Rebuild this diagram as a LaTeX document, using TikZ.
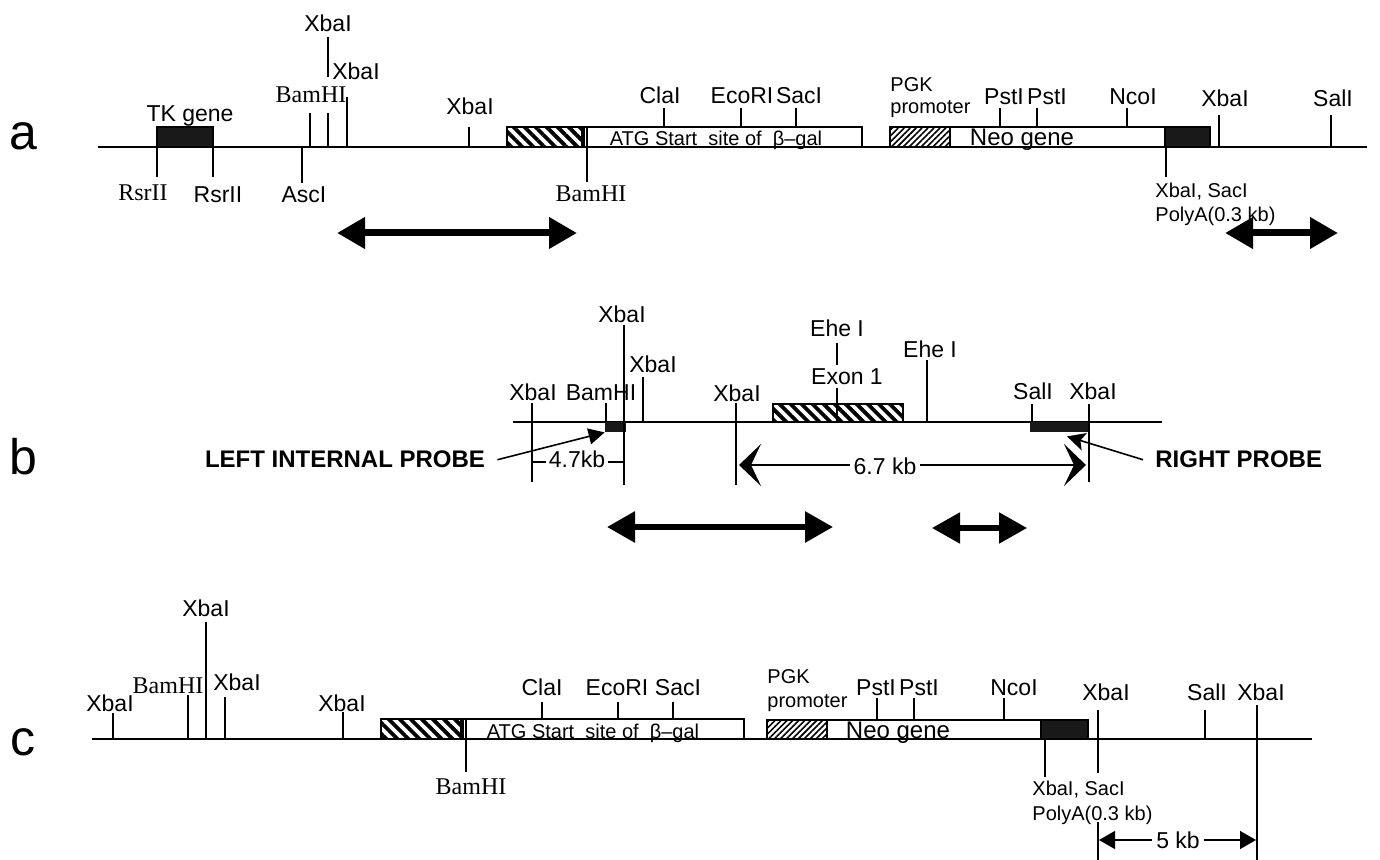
\documentclass[tikz,border=0pt]{standalone}
\usepackage{fontspec}
\setmainfont{Liberation Sans}
\newfontfamily\timesfont{Liberation Serif}
\usetikzlibrary{arrows.meta, fit, patterns.meta}

\tikzset{
  dna/.style={line width=0.8pt},
  cut/.style={line width=0.8pt},
  site/.style={font=\fontsize{11.5}{13.8}\selectfont, inner sep=0pt, anchor=base},
  tsite/.style={site, font=\timesfont\fontsize{12}{14}\selectfont},
  small/.style={site, font=\fontsize{10}{12}\selectfont},
  big/.style={site, font=\fontsize{12}{14}\selectfont},
  probe/.style={site, font=\bfseries\fontsize{12}{14}\selectfont},
  panel/.style={site, font=\fontsize{25}{30}\selectfont},
  region/.style={draw, line width=0.8pt, fill=white, inner sep=0pt},
  solid/.style={region, fill=black!90},
  hatch/.style={draw, line width=0.8pt, inner sep=0pt, preaction={fill=white},
                pattern={Lines[angle=-45, distance=3.9pt, line width=1.9pt]}},
  pgk/.style={draw, line width=0.8pt, inner sep=0pt, preaction={fill=white},
              pattern={Lines[angle=45, distance=2.1pt, line width=0.8pt]}},
  band/.style={inner sep=0pt, fill=black!90},
  span/.style={line width=3.5pt, {Triangle[length=14pt,width=15pt]}-{Triangle[length=14pt,width=15pt]}},
  kb/.style={line width=0.7pt, {Stealth[length=11pt,width=21pt,inset=5pt]}-{Stealth[length=11pt,width=21pt,inset=5pt]}},
  kbsmall/.style={line width=0.7pt, {Triangle[length=8pt,width=9pt]}-{Triangle[length=8pt,width=9pt]}},
  pointer/.style={line width=0.8pt, -{Triangle[length=8pt,width=8pt]}}
}

\begin{document}
\begin{tikzpicture}[x=0.5pt, y=-0.5pt]
\useasboundingbox (0,0) rectangle (1380,860);
\fill[white] (0,0) rectangle (1380,860);

% ---------- a
\node[panel] (a) at (23,150) {a};
\draw[dna] (98,147) -- (1367,147);
\node[solid, fit={(157,127) (213,147)}] (a-tk) {};
\node[hatch, fit={(507,127) (582,147)}] (a-lac) {};
\node[region, fit={(584,127) (862,147)}] (a-gal) {};
\node[pgk, fit={(890,127) (950,147)}] (a-pgk) {};
\node[region, fit={(950,127) (1165,147)}] (a-neo) {};
\node[solid, fit={(1165,127) (1210,147)}] (a-pA) {};

\foreach \x/\t/\b in {310/113/147, 328/113/147, 328/37/77, 347/97/147, 469/127/147,
    664/108/127, 741/108/127, 796/108/127, 1000/108/127, 1037/108/127, 1127/108/127,
    1219/115/147, 1331/115/147, 157/147/177, 213/147/177, 302/147/183, 587/127/182,
    1166/147/177}
  \draw[cut] (\x,\t) -- (\x,\b);

\node[site] (a-tkl) at (190,122) {TK gene};
\node[site] (a-x1) at (328,32) {XbaI};
\node[site] (a-x2) at (356,80) {XbaI};
\node[tsite] (a-bam1) at (311,103) {BamHI};
\node[site] (a-x3) at (470,115) {XbaI};
\node[site] (a-cla) at (660,104) {ClaI};
\node[site] (a-eco) at (742,104) {EcoRI};
\node[site] (a-sac) at (799,104) {SacI};
\node[small, anchor=base west] (a-pgk1) at (890,92) {PGK};
\node[small, anchor=base west] (a-pgk2) at (890,114) {promoter};
\node[site] (a-pst1) at (1004,105) {PstI};
\node[site] (a-pst2) at (1047,105) {PstI};
\node[site] (a-nco) at (1133,105) {NcoI};
\node[site] (a-x4) at (1225,107) {XbaI};
\node[site] (a-sal) at (1333,107) {SalI};
\node[small] (a-atg) at (716,146) {ATG Start\ \ site of\ \ β–gal};
\node[big] (a-neol) at (1022,146) {Neo gene};
\node[tsite] (a-rsr1) at (143,201) {RsrII};
\node[site] (a-rsr2) at (218,203) {RsrII};
\node[site] (a-asc) at (304,203) {AscI};
\node[tsite] (a-bam2) at (591,202) {BamHI};
\node[small, anchor=base west] (a-xs) at (1155,198) {XbaI, SacI};
\node[small, anchor=base west] (a-polyA) at (1155,222) {PolyA(0.3 kb)};

\coordinate (a-s1) at (337,233);
\coordinate (a-e1) at (577,233);
\coordinate (a-s2) at (1225,233);
\coordinate (a-e2) at (1338,233);
\draw[span] (a-s1) -- (a-e1);
\draw[span] (a-s2) -- (a-e2);

% ---------- b
\node[panel] (b) at (23,474) {b};
\draw[dna] (513,422) -- (1162,422);
\node[band, fit={(605,422) (626,432)}] (b-lp) {};
\node[hatch, fit={(773,404) (903,422)}] (b-exon) {};
\node[band, fit={(1030,422) (1088,432)}] (b-rp) {};

\foreach \x/\t/\b in {532/403/482, 606/403/422, 624/325/485, 643/377/422, 736/403/485,
    837/343/365, 837/388/422, 927/360/422, 1032/404/422, 1089/404/482}
  \draw[cut] (\x,\t) -- (\x,\b);

\node[site] (b-x1) at (533,401) {XbaI};
\node[site] (b-bam) at (601,401) {BamHI};
\node[site] (b-x2) at (622,323) {XbaI};
\node[site] (b-x3) at (653,373) {XbaI};
\node[site] (b-x4) at (737,402) {XbaI};
\node[site] (b-ehe1) at (837,337) {Ehe I};
\node[site] (b-exl) at (847,385) {Exon 1};
\node[site] (b-ehe2) at (930,358) {Ehe I};
\node[site] (b-sal) at (1033,400) {SalI};
\node[site] (b-x5) at (1093,400) {XbaI};

\node[probe] (b-left) at (345,468) {LEFT INTERNAL PROBE};
\node[probe, anchor=base west] (b-right) at (1155,468) {RIGHT PROBE};
\draw[pointer] (b-left.east) ++(6pt,0) -- (b-lp.south west);
\draw[line width=0.8pt, -{Stealth[length=9pt,width=9pt,inset=2pt]}]
  ([xshift=-6pt]b-right.west) -- ([xshift=4pt,yshift=-2pt]b-rp.south);

\draw[cut] (532,462) -- (624,462);
\node[site, fill=white, inner sep=1.5pt] (b-47) at (577,468) {4.7kb};

\coordinate (b-d1) at (739,465);
\coordinate (b-d2) at (1086,465);
\draw[kb] (b-d1) -- (b-d2);
\node[site, fill=white, inner sep=2pt] (b-67) at (885,474) {6.7 kb};

\coordinate (b-s1) at (607,527);
\coordinate (b-e1) at (833,527);
\coordinate (b-s2) at (932,528);
\coordinate (b-e2) at (1027,528);
\draw[span, line width=3pt] (b-s1) -- (b-e1);
\draw[span, line width=2.6pt] (b-s2) -- (b-e2);

% ---------- c
\node[panel] (c) at (23,755) {c};
\draw[dna] (92,739) -- (1312,739);
\node[hatch, fit={(381,719) (461,739)}] (c-lac) {};
\node[region, fit={(463,719) (744,739)}] (c-gal) {};
\node[pgk, fit={(767,720) (827,739)}] (c-pgk) {};
\node[region, fit={(827,720) (1041,739)}] (c-neo) {};
\node[solid, fit={(1041,720) (1088,739)}] (c-pA) {};

\foreach \x/\t/\b in {113/713/739, 188/695/739, 206/622/739, 225/697/739, 343/712/739,
    542/702/719, 618/702/719, 673/702/719, 877/698/720, 914/698/720, 1004/698/720,
    1098/710/773, 1098/822/860, 1205/710/739, 1257/705/860, 466/719/772, 1045/739/777}
  \draw[cut] (\x,\t) -- (\x,\b);

\node[site] (c-x1) at (110,711) {XbaI};
\node[tsite] (c-bam1) at (168,693) {BamHI};
\node[site] (c-x2) at (206,616) {XbaI};
\node[site] (c-x3) at (237,690) {XbaI};
\node[site] (c-x4) at (342,711) {XbaI};
\node[small] (c-atg) at (593,738) {ATG Start\ \ site of\ \ β–gal};
\node[site] (c-cla) at (542,695) {ClaI};
\node[site] (c-eco) at (617,695) {EcoRI};
\node[site] (c-sac) at (678,695) {SacI};
\node[tsite] (c-bam2) at (471,794) {BamHI};
\node[small, anchor=base west] (c-pgk1) at (767,683) {PGK};
\node[small, anchor=base west] (c-pgk2) at (767,707) {promoter};
\node[site] (c-pst1) at (876,695) {PstI};
\node[site] (c-pst2) at (919,695) {PstI};
\node[site] (c-nco) at (1014,695) {NcoI};
\node[big] (c-neol) at (898,738) {Neo gene};
\node[site] (c-x5) at (1106,700) {XbaI};
\node[site] (c-sal) at (1207,700) {SalI};
\node[site] (c-x6) at (1261,700) {XbaI};
\node[small, anchor=base west] (c-xs) at (1032,795) {XbaI, SacI};
\node[small, anchor=base west] (c-polyA) at (1032,820) {PolyA(0.3 kb)};

\coordinate (c-d1) at (1099,840);
\coordinate (c-d2) at (1256,840);
\draw[kbsmall] (c-d1) -- (c-d2);
\node[site, fill=white, inner sep=2pt] (c-5) at (1178,848) {5 kb};
\end{tikzpicture}
\end{document}
